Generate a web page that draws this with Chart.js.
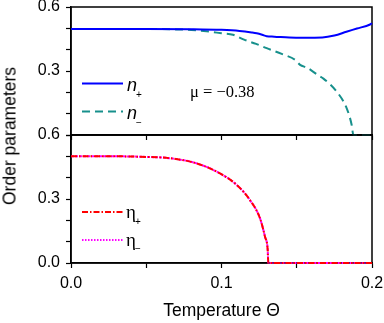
<!DOCTYPE html>
<html>
<head>
<meta charset="utf-8">
<script src="https://cdn.jsdelivr.net/npm/chart.js@4.4.0/dist/chart.umd.min.js"></script>
<style>
  body { margin:0; background:#fff; width:384px; height:323px; overflow:hidden; position:relative; font-family:"Liberation Sans", Arial, sans-serif; }
  #c1 { position:absolute; left:0; top:0; }
  #c2 { position:absolute; left:0; top:120px; }
  #ytitle { position:absolute; left:10px; top:136px; transform:translate(-50%,-50%) rotate(-90deg); font-size:17.5px; white-space:nowrap; color:#000; }
</style>
</head>
<body>
<canvas id="c1" width="384" height="145"></canvas>
<canvas id="c2" width="384" height="203"></canvas>
<div id="ytitle">Order parameters</div>
<script>
// top panel: n+ and n- vs temperature
var nPlusT  = [0, 0.05, 0.08, 0.1, 0.112, 0.12, 0.1234, 0.127, 0.13, 0.135, 0.145, 0.155, 0.167, 0.175, 0.183, 0.19, 0.1987, 0.2];
var nPlus   = [0.497, 0.497, 0.496, 0.493, 0.488, 0.481, 0.477, 0.47, 0.463, 0.461, 0.457, 0.456, 0.457, 0.466, 0.484, 0.499, 0.518, 0.524];
var nMinusT = [0, 0.05, 0.07, 0.08, 0.09, 0.1, 0.1076, 0.115, 0.123, 0.13, 0.14, 0.149, 0.1522, 0.157, 0.164, 0.1674, 0.1766, 0.1832, 0.1865, 0.1876, 0.2];
var nMinus  = [0.497, 0.497, 0.495, 0.492, 0.486, 0.477, 0.47, 0.447, 0.427, 0.407, 0.38, 0.352, 0.329, 0.315, 0.281, 0.266, 0.203, 0.125, 0.047, 0, 0];
// bottom panel: eta+ and eta- (curves coincide)
var etaT     = [0, 0.03, 0.0458, 0.0658, 0.0835, 0.099, 0.1101, 0.1189, 0.1256, 0.1289, 0.1307, 0.1311, 0.2];
var etaPlus  = [0.5, 0.5, 0.498, 0.491, 0.467, 0.42, 0.366, 0.295, 0.209, 0.123, 0.061, 0, 0];
var etaMinus = [0.5, 0.5, 0.498, 0.491, 0.467, 0.42, 0.366, 0.295, 0.209, 0.123, 0.061, 0, 0];
var xTicks = [0, 0.1, 0.2];
var yTicks = [0, 0.3, 0.6];
var muLabel = 'μ = −0.38';

function pts(xs, ys) {
  var out = [];
  for (var i = 0; i < xs.length; i++) out.push({x: xs[i], y: ys[i]});
  return out;
}
function isIn(v, list) {
  for (var i = 0; i < list.length; i++) if (Math.abs(v - list[i]) < 1e-6) return true;
  return false;
}

var FONT = '"Liberation Sans", Arial, sans-serif';
var SERIF = '"Liberation Serif", "Times New Roman", serif';
Chart.defaults.font.family = FONT;
Chart.defaults.color = '#000';

var frame = {
  id: 'frame',
  beforeDatasetsDraw: function(chart) {
    var a = chart.chartArea, ctx = chart.ctx;
    ctx.save();
    ctx.strokeStyle = '#000';
    ctx.lineWidth = 1.5;
    ctx.strokeRect(a.left, a.top, a.right - a.left, a.bottom - a.top);
    ctx.restore();
  }
};

// hand drawn legend + annotation
var legendDraw = {
  id: 'legendDraw',
  afterDraw: function(chart) {
    var items = chart.options.plugins.legendDraw.items || [];
    var ctx = chart.ctx;
    ctx.save();
    items.forEach(function(it) {
      if (it.color) {
        ctx.strokeStyle = it.color;
        ctx.lineWidth = 2;
        ctx.setLineDash(it.dash || []);
        ctx.beginPath();
        ctx.moveTo(82, it.y);
        ctx.lineTo(123, it.y);
        ctx.stroke();
        ctx.setLineDash([]);
      }
      ctx.fillStyle = '#000';
      ctx.textBaseline = 'alphabetic';
      ctx.textAlign = 'left';
      ctx.font = it.font;
      ctx.fillText(it.text, it.tx, it.ty);
      if (it.sub) {
        ctx.font = '10px ' + FONT;
        ctx.fillText(it.sub, it.sx, it.sy);
      }
    });
    ctx.restore();
  }
};

function yScale(showZero) {
  return {
    min: 0, max: 0.6,
    afterFit: function(s) { s.width = 71; s.paddingTop = 0; s.paddingBottom = 0; },
    ticks: {
      stepSize: 0.1, padding: 6, font: {size: 16}, autoSkip: false,
      callback: function(v) {
        if (!showZero && Math.abs(v) < 1e-6) return '';
        return isIn(v, yTicks) ? v.toFixed(1) : '';
      }
    },
    grid: {drawOnChartArea: false, tickLength: 5, tickColor: '#000', tickWidth: 1.2},
    border: {color: '#000', width: 1.5}
  };
}

var topChart = new Chart(document.getElementById('c1'), {
  type: 'line',
  data: {
    datasets: [
      {data: pts(nPlusT, nPlus), borderColor: '#0000ff', borderWidth: 2, pointRadius: 0, cubicInterpolationMode: 'monotone', clip: false},
      {data: pts(nMinusT, nMinus), borderColor: '#17908c', borderWidth: 2, borderDash: [8, 5], pointRadius: 0, cubicInterpolationMode: 'monotone', clip: false}
    ]
  },
  options: {
    responsive: false, animation: false,
    layout: {padding: {top: 7, right: 12, left: 0, bottom: 0}},
    plugins: {
      legend: {display: false}, tooltip: {enabled: false},
      legendDraw: {items: [
        {color: '#0000ff', y: 83.5, text: 'n', font: 'italic 18px ' + FONT, tx: 127, ty: 90.5, sub: '+', sx: 136, sy: 98},
        {color: '#17908c', dash: [8, 5], y: 111.5, text: 'n', font: 'italic 18px ' + FONT, tx: 127, ty: 119, sub: '−', sx: 136, sy: 126},
        {text: muLabel, font: '16.5px ' + SERIF, tx: 190, ty: 96.5}
      ]}
    },
    scales: {
      x: {
        type: 'linear', min: 0, max: 0.2,
        afterFit: function(s) { s.height = 10; s.paddingLeft = 0; s.paddingRight = 0; },
        ticks: {stepSize: 0.05, autoSkip: false, callback: function() { return ''; }},
        grid: {drawOnChartArea: false, tickLength: 5, tickColor: '#000', tickWidth: 1.2},
        border: {color: '#000', width: 1.5}
      },
      y: yScale(false)
    }
  },
  plugins: [frame, legendDraw]
});

var bottomChart = new Chart(document.getElementById('c2'), {
  type: 'line',
  data: {
    datasets: [
      {data: pts(etaT, etaPlus), borderColor: '#ff0000', borderWidth: 2, borderDash: [6, 2, 1.5, 2], pointRadius: 0, cubicInterpolationMode: 'monotone', clip: false},
      {data: pts(etaT, etaMinus), borderColor: '#ff00ff', borderWidth: 2, borderDash: [3, 1], pointRadius: 0, cubicInterpolationMode: 'monotone', clip: false}
    ]
  },
  options: {
    responsive: false, animation: false,
    layout: {padding: {top: 15, right: 12, left: 0, bottom: 0}},
    plugins: {
      legend: {display: false}, tooltip: {enabled: false},
      legendDraw: {items: [
        {color: '#ff0000', dash: [6, 2, 1.5, 2], y: 92, text: 'η', font: '19px ' + SERIF, tx: 126, ty: 98, sub: '+', sx: 135, sy: 105},
        {color: '#ff00ff', dash: [1.5, 1.5], y: 120, text: 'η', font: '19px ' + SERIF, tx: 126, ty: 126, sub: '−', sx: 135, sy: 132}
      ]}
    },
    scales: {
      x: {
        type: 'linear', min: 0, max: 0.2,
        afterFit: function(s) { s.height = 60; s.paddingLeft = 0; s.paddingRight = 0; },
        ticks: {
          stepSize: 0.05, padding: 6, font: {size: 16}, maxRotation: 0, autoSkip: false,
          callback: function(v) { return isIn(v, xTicks) ? v.toFixed(1) : ''; }
        },
        title: {display: true, text: 'Temperature Θ', font: {size: 17.5}, padding: {top: 0, bottom: 1}},
        grid: {drawOnChartArea: false, tickLength: 5, tickColor: '#000', tickWidth: 1.2},
        border: {color: '#000', width: 1.5}
      },
      y: yScale(true)
    }
  },
  plugins: [frame, legendDraw]
});
</script>
</body>
</html>
